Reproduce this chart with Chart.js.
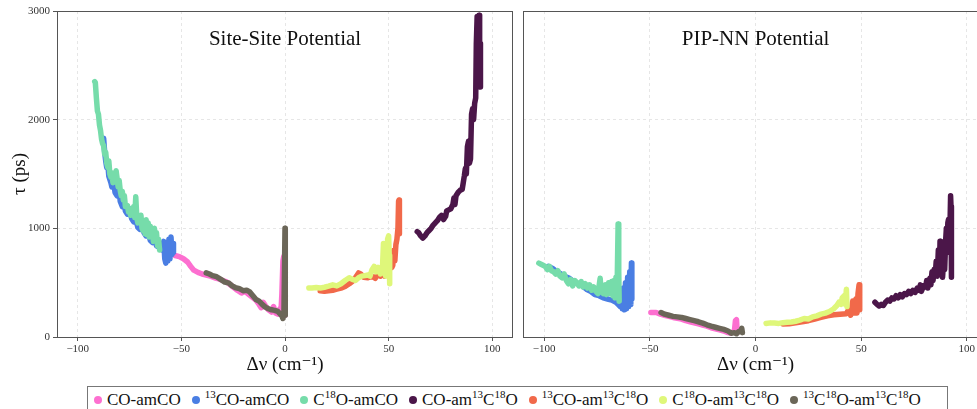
<!DOCTYPE html>
<html lang="en">
<head>
<meta charset="UTF-8" />
<title>Vibrational relaxation times</title>
<script src="https://cdn.jsdelivr.net/npm/chart.js"></script>
<style>
  body {
    margin: 0;
    width: 977px;
    height: 409px;
    overflow: hidden;
    background: #fff;
    position: relative;
    font-family: "Liberation Serif", "DejaVu Serif", serif;
  }
  #left { position: absolute; left: 0; top: 0; }
  #right { position: absolute; left: 513px; top: 0; }
  .legend {
    position: absolute;
    left: 87px;
    top: 386px;
    width: 861px;
    height: 28px;
    border: 1px solid #777;
    box-sizing: border-box;
    display: flex;
    align-items: center;
    padding-left: 6px;
    font-size: 17px;
    color: #111;
    white-space: nowrap;
    background: #fff;
  }
  .legend .item { display: inline-flex; align-items: center; margin-right: 11px; }
  .legend i { width: 8px; height: 8px; border-radius: 50%; margin-right: 5px; display: inline-block; }
  .legend sup { font-size: 11px; vertical-align: baseline; position: relative; top: -6px; line-height: 0; }
</style>
</head>
<body>
<canvas id="left" width="520" height="382"></canvas>
<canvas id="right" width="475" height="382"></canvas>
<div class="legend" id="legend"></div>

<script>
// series names (html for the legend) and colours
const seriesNames = [
  "CO-amCO",
  "<sup>13</sup>CO-amCO",
  "C<sup>18</sup>O-amCO",
  "CO-am<sup>13</sup>C<sup>18</sup>O",
  "<sup>13</sup>CO-am<sup>13</sup>C<sup>18</sup>O",
  "C<sup>18</sup>O-am<sup>13</sup>C<sup>18</sup>O",
  "<sup>13</sup>C<sup>18</sup>O-am<sup>13</sup>C<sup>18</sup>O",
];
const seriesColors = ["#fd6fd0", "#4a7ee3", "#76dcaa", "#4b1649", "#f1694a", "#dff77a", "#6b6658"];

const xTicks = [-100, -50, 0, 50, 100];
const yTicks = [0, 1000, 2000, 3000];

// ---- Site-Site potential: [dnu (cm-1), tau (ps)] ----
const ssCO = [[-56, 780], [-55, 770], [-53, 750], [-51, 740], [-49, 720], [-47, 690], [-45.5, 650], [-44, 615],
  [-42, 595], [-40, 580], [-38, 570], [-36, 560], [-34, 545], [-32, 535], [-30, 520], [-28.5, 510], [-27, 490],
  [-25, 460], [-23, 430], [-21, 405], [-19.5, 420], [-18, 400], [-16, 370], [-14, 340], [-12.5, 300], [-11.5, 270],
  [-10.5, 320], [-9.5, 290], [-8, 250], [-6.5, 230], [-5.5, 280], [-4.5, 220], [-3.5, 210], [-2.5, 260], [-2, 210],
  [-1.5, 400], [-1, 700], [-0.6, 740], [-0.3, 300], [0, 200]];
const ss13CO = [[-87.5, 1830], [-87, 1700], [-86.5, 1620], [-86, 1560], [-85.5, 1600], [-85, 1480], [-84, 1420],
  [-83.5, 1380], [-82.5, 1400], [-82, 1330], [-81, 1300], [-80, 1350], [-79.5, 1250], [-78.5, 1200], [-77.5, 1220],
  [-77, 1160], [-76, 1130], [-75, 1180], [-74, 1090], [-73, 1060], [-72, 1080], [-71, 1010], [-70, 990], [-69, 1030],
  [-68, 960], [-67, 930], [-66, 960], [-65, 890], [-64, 870], [-63, 900], [-62, 840], [-61, 830], [-60, 860],
  [-59, 800], [-58.5, 880], [-58, 720], [-57.5, 680], [-57, 850], [-56.5, 700], [-56, 900], [-55.5, 720],
  [-55, 920], [-54.5, 760], [-54, 860], [-53.8, 780]];
const ssC18O = [[-91.8, 2350], [-91.5, 2340], [-91, 2200], [-90.5, 2080], [-90, 2050], [-89.5, 1950], [-89, 1900],
  [-88.5, 1820], [-88, 1780], [-87.5, 1760], [-87, 1680], [-86.5, 1700], [-86, 1600], [-85.5, 1560], [-85, 1620],
  [-84.5, 1500], [-84, 1470], [-83.5, 1510], [-83, 1420], [-82.5, 1490], [-82, 1430], [-81.5, 1530], [-81, 1460],
  [-80.5, 1380], [-80, 1440], [-79.5, 1350], [-79, 1300], [-78.5, 1340], [-78, 1260], [-77.5, 1300], [-77, 1200],
  [-76, 1210], [-75.5, 1150], [-75, 1180], [-74.5, 1120], [-74, 1140], [-73, 1200], [-72.5, 1100], [-72, 1290],
  [-71.5, 1100], [-71, 1050], [-70, 1060], [-69.5, 1120], [-69, 1000], [-68.5, 980], [-68, 1020], [-67.5, 950],
  [-67, 1080], [-66.5, 940], [-66, 1050], [-65.5, 920], [-65, 1020], [-64.5, 930], [-64, 980], [-63.5, 880],
  [-63, 1000], [-62.5, 900], [-62, 960], [-61.5, 840], [-61, 900], [-60.5, 800]];
const ssCOam = [[63.8, 970], [64.5, 960], [65.5, 930], [66.5, 910], [67.5, 930], [68.5, 960], [69.5, 980],
  [70.5, 1000], [71.5, 1030], [72.5, 1050], [73.5, 1070], [74.5, 1100], [75.5, 1120], [76.5, 1080], [77.5, 1110],
  [78, 1160], [79, 1170], [80, 1180], [81, 1220], [81.5, 1280], [82, 1220], [82.5, 1300], [83.5, 1330], [84.5, 1350],
  [85.5, 1360], [86, 1420], [86.5, 1480], [87, 1550], [87.5, 1500], [88, 1750], [88.5, 1800], [89, 1600],
  [89.5, 1640], [90, 2050], [90.5, 2100], [91, 2000], [91.5, 2150], [92, 2200], [92.3, 2700], [92.7, 2950],
  [93, 2900], [93.3, 2600], [93.6, 2960], [93.9, 2500], [94.2, 2300], [94.3, 2700]];
const ss13COam = [[17, 425], [19, 420], [21, 425], [23, 430], [25, 440], [27, 450], [29, 465], [31, 490], [33, 520],
  [34.5, 560], [35.5, 590], [36.5, 580], [38, 550], [40, 545], [42, 560], [43.5, 540], [45, 580], [46, 560],
  [47, 600], [48, 560], [49, 570], [50.5, 620], [51, 780], [51.5, 640], [52, 660], [52.5, 800], [53, 700],
  [53.5, 850], [54, 900], [54.5, 1000], [54.8, 1250], [55, 1260], [55.2, 950]];
const ssC18Oam = [[11.5, 450], [13, 452], [15, 455], [17, 450], [19, 458], [21, 468], [23, 480], [25, 470],
  [27, 490], [29, 520], [31, 545], [32.5, 530], [34, 520], [35.5, 545], [37, 560], [38.5, 565], [40, 570],
  [41, 560], [42, 620], [43, 650], [44, 600], [45, 640], [46, 580], [47, 620], [47.5, 860], [48, 700],
  [48.5, 560], [49, 700], [49.5, 900], [50, 930], [50.3, 750], [50.5, 490]];
const ss13C18O = [[-38, 590], [-36.5, 580], [-35, 565], [-33, 555], [-31, 530], [-29, 505], [-27, 495],
  [-25.5, 470], [-24, 455], [-22, 445], [-20, 425], [-18.5, 430], [-17, 415], [-15.5, 380], [-14, 345],
  [-12.5, 330], [-11, 300], [-9.5, 275], [-8, 260], [-6.5, 250], [-5, 245], [-3.5, 235], [-2.5, 215],
  [-1.5, 195], [-1, 170], [-0.5, 240], [0, 1000], [0.3, 600], [0.1, 250], [0, 200]];

// ---- PIP-NN potential ----
const nnCO = [[-49.5, 225], [-47, 225], [-45, 210], [-43, 200], [-41, 190], [-39, 180], [-37, 172], [-35, 165],
  [-33, 150], [-31, 140], [-29, 130], [-27, 120], [-25, 110], [-23, 100], [-21, 85], [-19, 75], [-17, 65],
  [-15, 55], [-13, 40], [-12, 35], [-11, 45], [-10, 50], [-9.5, 150], [-9, 160], [-8.7, 60], [-8, 50]];
const nn13CO = [[-98, 650], [-96, 630], [-94, 600], [-92, 580], [-90, 555], [-88, 540], [-86, 510], [-84, 490],
  [-82, 470], [-80, 440], [-78, 420], [-76, 390], [-74, 380], [-72, 360], [-70, 350], [-68, 340], [-66, 320],
  [-65, 300], [-64, 280], [-63.5, 400], [-63, 260], [-62.5, 450], [-62, 250], [-61.5, 500], [-61, 260],
  [-60.5, 550], [-60, 280], [-59.5, 600], [-59, 300], [-58.7, 680], [-58.5, 350]];
const nnC18O = [[-102.5, 680], [-101.5, 670], [-100.5, 660], [-99.5, 650], [-98.5, 620], [-97.5, 650],
  [-96.5, 610], [-95.5, 600], [-94.5, 580], [-93.5, 610], [-92.5, 560], [-91.5, 545], [-90.5, 580], [-89.5, 520],
  [-88.5, 490], [-87.5, 530], [-86.5, 470], [-85.5, 520], [-84.5, 500], [-83.5, 470], [-82.5, 510], [-81.5, 460],
  [-80.5, 490], [-79.5, 450], [-78.5, 480], [-77.5, 430], [-76.5, 460], [-75.5, 420], [-74.5, 400], [-73.5, 540],
  [-73, 420], [-72, 400], [-71, 480], [-70.5, 390], [-69.5, 500], [-69, 400], [-68, 510], [-67.5, 380],
  [-67, 520], [-66.5, 360], [-66, 550], [-65.5, 420], [-65, 1040], [-64.7, 600], [-64.5, 330]];
const nnCOam = [[56.5, 320], [57.5, 300], [58.5, 285], [59.5, 300], [60.5, 290], [61.5, 320], [62.5, 340],
  [63.5, 330], [64.5, 360], [65.5, 350], [66.5, 380], [67.5, 360], [68.5, 390], [69.5, 370], [70.5, 400],
  [71.5, 390], [72.5, 420], [73.5, 400], [74.5, 430], [75.5, 410], [76.5, 450], [77.5, 430], [78, 480],
  [78.5, 420], [79.5, 470], [80.5, 460], [81, 520], [81.5, 450], [82.5, 540], [83, 480], [83.5, 600], [84, 520],
  [84.5, 620], [85, 560], [85.5, 700], [86, 560], [86.5, 800], [87, 600], [87.3, 880], [87.6, 650], [88, 820],
  [88.5, 550], [89, 700], [89.5, 620], [90, 900], [90.3, 1000], [90.6, 850], [91, 1050], [91.3, 1080],
  [91.6, 780], [92, 1000], [92.3, 1300], [92.5, 1200], [92.7, 550]];
const nn13COam = [[13, 120], [16, 122], [19, 130], [22, 140], [25, 150], [28, 165], [31, 180], [34, 195],
  [37, 205], [40, 210], [43, 215], [44, 250], [45, 200], [46, 330], [46.5, 220], [47, 300], [47.5, 350],
  [48, 220], [48.5, 400], [49, 480], [49.3, 250]];
const nnC18Oam = [[5, 125], [7, 130], [9, 128], [11, 125], [13, 132], [15, 135], [17, 138], [19, 145], [21, 155],
  [23, 170], [25, 165], [27, 185], [29, 195], [31, 210], [33, 220], [35, 235], [37, 260], [38.5, 290],
  [39.5, 320], [40.5, 300], [41, 360], [42, 380], [42.5, 300], [43, 440], [43.3, 280]];
const nn13C18O = [[-44.7, 225], [-43, 210], [-41, 200], [-39, 190], [-37, 185], [-35, 180], [-33, 170],
  [-31, 160], [-29, 150], [-27, 140], [-25, 128], [-23, 112], [-21, 100], [-19, 90], [-17, 80], [-15, 70],
  [-13, 55], [-11.5, 35], [-10, 40], [-9, 30], [-8, 50], [-7, 55], [-6.5, 80], [-6.2, 40]];

const siteSite = [ssCO, ss13CO, ssC18O, ssCOam, ss13COam, ssC18Oam, ss13C18O];
const pipNN = [nnCO, nn13CO, nnC18O, nnCOam, nn13COam, nnC18Oam, nn13C18O];

const serif = "'Liberation Serif', 'DejaVu Serif', serif";
const plain = (v) => String(v).replace("-", "\u2212");

// frame around the plot area + panel title inside it
const panelDecor = {
  id: "panelDecor",
  afterDraw(chart, args, opts) {
    const { ctx, chartArea: a } = chart;
    ctx.save();
    ctx.strokeStyle = "#555";
    ctx.lineWidth = 1;
    ctx.strokeRect(a.left + 0.5, a.top + 0.5, a.right - a.left - 1, a.bottom - a.top);
    ctx.fillStyle = "#111";
    ctx.font = "21px " + serif;
    ctx.textAlign = "center";
    ctx.textBaseline = "middle";
    ctx.fillText(opts.text, (a.left + a.right) / 2, a.top + 28);
    ctx.restore();
  },
};

function makePanel(id, data, title, showY, pad) {
  const datasets = data.map((pts, i) => ({
    label: seriesNames[i],
    data: pts.map(([x, y]) => ({ x, y })),
    borderColor: seriesColors[i],
    backgroundColor: seriesColors[i],
    borderWidth: 5.5,
    borderCapStyle: "round",
    borderJoinStyle: "round",
    pointRadius: 0,
    showLine: true,
    fill: false,
    tension: 0,
    order: 10 - i,
  }));

  return new Chart(document.getElementById(id), {
    type: "scatter",
    data: { datasets },
    plugins: [panelDecor],
    options: {
      responsive: false,
      animation: false,
      devicePixelRatio: 1,
      layout: { padding: pad },
      plugins: {
        legend: { display: false },
        tooltip: { enabled: false },
        panelDecor: { text: title },
      },
      scales: {
        x: {
          type: "linear",
          min: -110,
          max: 110,
          afterBuildTicks: (s) => { s.ticks = xTicks.map((v) => ({ value: v })); },
          afterFit: (s) => { s.height = 45; },
          border: { display: false, dash: [3, 3] },
          grid: { color: "#e6e6e6", tickColor: "#555", tickLength: 4, tickBorderDash: [] },
          ticks: { color: "#333", font: { family: serif, size: 11 }, padding: 2, callback: plain },
          title: {
            display: true,
            text: "\u0394\u03bd (cm\u207b\u00b9)",
            color: "#111",
            font: { family: serif, size: 19 },
            padding: { top: 2, bottom: 6 },
          },
        },
        y: {
          min: 0,
          max: 3000,
          afterBuildTicks: (s) => { s.ticks = yTicks.map((v) => ({ value: v })); },
          afterFit: (s) => { s.width = showY ? 57 : 10; },
          border: { display: false, dash: [3, 3] },
          grid: { color: "#e6e6e6", tickColor: "#555", tickLength: showY ? 4 : 0, tickBorderDash: [] },
          ticks: { display: showY, color: "#333", font: { family: serif, size: 11 }, padding: 3, callback: plain },
          title: {
            display: showY,
            text: "\u03c4 (ps)",
            color: "#111",
            font: { family: serif, size: 19 },
            padding: { top: 9, bottom: 0 },
          },
        },
      },
    },
  });
}

makePanel("left", siteSite, "Site-Site Potential", true, { top: 11, right: 7, left: 0, bottom: 0 });
makePanel("right", pipNN, "PIP-NN Potential", false, { top: 11, right: 0, left: 0, bottom: 0 });

// shared legend under both panels
document.getElementById("legend").innerHTML = seriesNames
  .map((n, i) => `<span class="item"><i style="background:${seriesColors[i]}"></i>${n}</span>`)
  .join("");
</script>
</body>
</html>
